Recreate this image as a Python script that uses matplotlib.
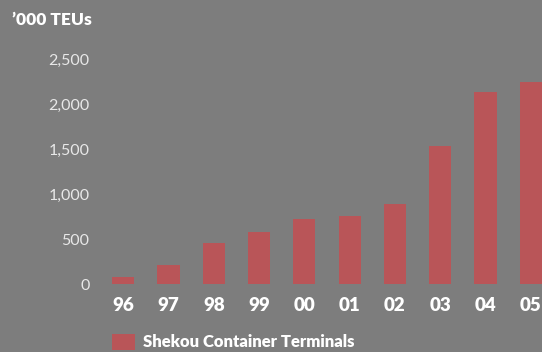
import matplotlib.pyplot as plt
from matplotlib.ticker import FuncFormatter

years = ["96", "97", "98", "99", "00", "01", "02", "03", "04", "05"]
teus = [85, 212, 463, 579, 723, 757, 890, 1538, 2138, 2249]
yticks = [0, 500, 1000, 1500, 2000, 2500]
series_name = "Shekou Container Terminals"

bg = "#7d7d7d"
bar_color = "#b95558"
plt.rcParams["font.family"] = ["Lato", "DejaVu Sans"]

W, H = 542, 352
fig = plt.figure(figsize=(W / 100, H / 100), dpi=100, facecolor=bg)
left, right, bottom, top = 100.5, 542, 284.4, 50.7
ax = fig.add_axes([left / W, (H - bottom) / H, (right - left) / W, (bottom - top) / H])
ax.set_facecolor(bg)

x = list(range(len(years)))
ax.bar(x, teus, width=0.49, color=bar_color, label=series_name)

ax.set_xlim(-0.5, 9.245)
ax.set_ylim(0, 2600)
ax.set_xticks(x)
ax.set_xticklabels(years, fontsize=13.5, fontweight="heavy", color="white")
ax.set_yticks(yticks)
ax.yaxis.set_major_formatter(FuncFormatter(lambda v, p: f"{int(v):,}"))
ax.tick_params(axis="y", length=0, pad=8, labelsize=11.5, labelcolor="#e8e8e8")
ax.tick_params(axis="x", length=0, pad=9)
for s in ax.spines.values():
    s.set_visible(False)

fig.text(12 / W, 1 - 20 / H, "\u2019000 TEUs", fontsize=12.5, fontweight="heavy",
         color="white", va="center", ha="left")

fig.legend(loc="center left", bbox_to_anchor=(112 / W, 1 - 342 / H), frameon=False,
           prop={"weight": "heavy", "size": 12}, labelcolor="white",
           handlelength=1.4, handleheight=1.1, handletextpad=0.45,
           borderpad=0, borderaxespad=0)

fig.savefig("out.png", dpi=100, facecolor=bg)
